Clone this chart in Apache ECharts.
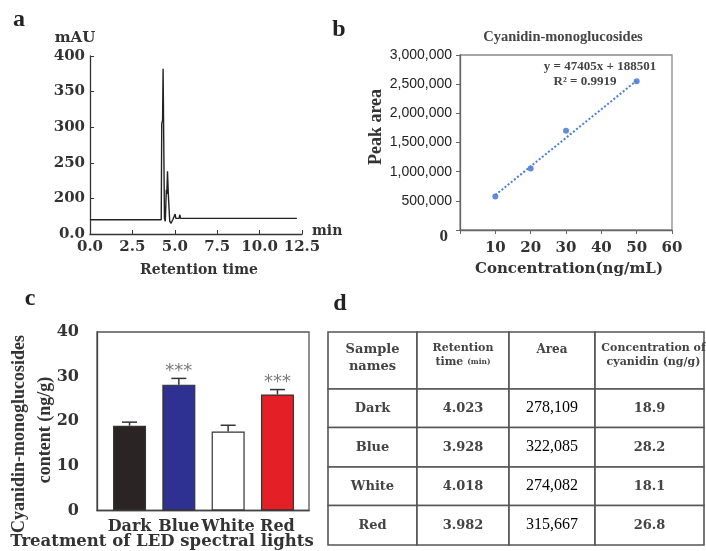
<!DOCTYPE html>
<html>
<head>
<meta charset="utf-8">
<script src="https://cdn.jsdelivr.net/npm/echarts@6/dist/echarts.min.js"></script>
<style>html,body{margin:0;padding:0;background:#fff;}#c{width:706px;height:551px;}</style>
</head>
<body>
<div id="c"></div>
<script>
// ---- Panel a: chromatogram (retention time, min / absorbance, mAU) ----
const chromTime = [0, 4.20, 4.22, 4.23, 4.28, 4.31, 4.39, 4.44, 4.50, 4.53, 4.57, 4.62, 4.70, 4.78, 4.88, 4.98, 5.02, 5.06, 5.25, 5.30, 5.34, 12.2];
const chromMAU  = [170, 170, 171, 305, 310, 382, 172, 168, 212, 206, 238, 205, 168, 165, 170, 172, 178, 172, 172, 177, 172, 172];
const chromYTicks = [150, 200, 250, 300, 350, 400];

// ---- Panel b: calibration curve ----
const calibConc = [10, 20, 30, 50];
const calibArea = [575000, 1055000, 1700000, 2550000];
const trendConc = [10, 50];
const trendArea = [600000, 2560000];
const calibEquation = 'y = 47405x + 188501';
const calibR2 = 'R² = 0.9919';

// ---- Panel c: bar chart ----
const ledTreatments = ['Dark', 'Blue', 'White', 'Red'];
const contentMeans = [19.0, 28.2, 17.7, 26.0];
const contentErrors = [0.8, 1.4, 1.4, 1.1];
const significance = ['', '***', '', '***'];

// ---- Panel d: table ----
const tableHeaders = [['Sample', 'names'], ['Retention', 'time (min)'], ['Area'], ['Concentration of', 'cyanidin (ng/g)']];
const tblSamples = ['Dark', 'Blue', 'White', 'Red'];
const tblRetention = ['4.023', '3.928', '4.018', '3.982'];
const tblArea = ['278,109', '322,085', '274,082', '315,667'];
const tblConc = ['18.9', '28.2', '18.1', '26.8'];

// ---- styles ----
const DS = 'DejaVu Serif';
const LS = 'Liberation Serif';
const BAR_COLORS = ['#2b2424', '#2e3192', '#ffffff', '#e41f26'];
const COL_W = [89, 92, 86, 109];
const ROW_H = [57, 38.5, 39.5, 38.5, 39.5];
const colEdges = [0]; COL_W.forEach(w => colEdges.push(colEdges[colEdges.length - 1] + w));
const rowEdges = [0]; ROW_H.forEach(h => rowEdges.push(rowEdges[rowEdges.length - 1] + h));

const chart = echarts.init(document.getElementById('c'), null, {renderer: 'canvas'});

function txt(text, x, y, font, opts) {
  opts = opts || {};
  return {type: 'text', x: x, y: y, rotation: opts.rot || 0, z: 100,
    style: {text: text, font: font, fill: opts.fill || '#333', textAlign: opts.align || 'center', textVerticalAlign: 'middle'}};
}

const tableColumns = [tblSamples, tblRetention, tblArea, tblConc];
const tableCells = [];
for (let r = 0; r < 5; r++) for (let c = 0; c < 4; c++) tableCells.push([c, r]);

const option = {
  animation: false,
  backgroundColor: '#fff',
  grid: [
    {left: 90, top: 56, width: 212, height: 178, outerBoundsMode: 'none'},
    {left: 460, top: 55, width: 212, height: 175, show: true, borderColor: '#8a8a8a', borderWidth: 1.3, outerBoundsMode: 'none'},
    {left: 97, top: 332, width: 212, height: 178.5, show: true, borderColor: '#555', borderWidth: 1.3, outerBoundsMode: 'none'},
    {left: 328, top: 332, width: 376, height: 213, outerBoundsMode: 'none'}
  ],
  xAxis: [
    {gridIndex: 0, type: 'value', min: 0, max: 12.5, interval: 2.5,
      axisLine: {show: true, lineStyle: {color: '#333', width: 1.3}},
      axisTick: {show: true, inside: true, length: 4, lineStyle: {color: '#333'}},
      axisLabel: {formatter: v => v.toFixed(1), fontFamily: DS, fontWeight: 'bold', fontSize: 15, color: '#333', margin: 6, showMinLabel: true, showMaxLabel: true},
      splitLine: {show: false}},
    {gridIndex: 1, type: 'value', min: 0, max: 60, interval: 10,
      axisLine: {show: true, lineStyle: {color: '#666', width: 1.3}},
      axisTick: {show: true, length: 4, lineStyle: {color: '#666'}},
      axisLabel: {formatter: v => v === 0 ? '' : String(v), fontFamily: DS, fontWeight: 'bold', fontSize: 15, color: '#333', margin: 11, showMaxLabel: true},
      splitLine: {show: false}},
    {gridIndex: 2, type: 'value', min: 0.34, max: 4.64,
      axisLine: {show: true, lineStyle: {color: '#444', width: 1.3}},
      axisTick: {show: false},
      axisLabel: {customValues: [1, 2, 3, 4], formatter: v => ledTreatments[Math.round(v) - 1], fontFamily: DS, fontWeight: 'bold', fontSize: 16, color: '#333', margin: 8},
      splitLine: {show: false}},
    {gridIndex: 3, type: 'value', min: 0, max: colEdges[4], show: false}
  ],
  yAxis: [
    {gridIndex: 0, type: 'value', min: 150, max: 400, interval: 50,
      axisLine: {show: true, lineStyle: {color: '#333', width: 1.3}},
      axisTick: {show: true, inside: true, length: 4, lineStyle: {color: '#333'}},
      axisLabel: {formatter: v => v === 150 ? '0.0' : String(v), fontFamily: DS, fontWeight: 'bold', fontSize: 15, color: '#333', margin: 5, showMinLabel: true, showMaxLabel: true},
      splitLine: {show: false}},
    {gridIndex: 1, type: 'value', min: 0, max: 3000000, interval: 500000,
      axisLine: {show: true, lineStyle: {color: '#666', width: 1.3}},
      axisTick: {show: true, length: 4, lineStyle: {color: '#666'}},
      axisLabel: {formatter: v => v === 0 ? '{z|0}' : v.toLocaleString('en-US'), fontFamily: 'Liberation Sans', fontSize: 14, color: '#222', margin: 8, showMinLabel: true, showMaxLabel: true,
        rich: {z: {fontFamily: LS, fontWeight: 'bold', fontSize: 17, color: '#333', padding: [14, 4, 0, 0]}}},
      splitLine: {show: false}},
    {gridIndex: 2, type: 'value', min: 0, max: 40, interval: 10,
      axisLine: {show: true, lineStyle: {color: '#444', width: 1.3}},
      axisTick: {show: false},
      axisLabel: {fontFamily: DS, fontWeight: 'bold', fontSize: 16, color: '#333', margin: 18, showMinLabel: true, showMaxLabel: true},
      splitLine: {show: false}},
    {gridIndex: 3, type: 'value', min: 0, max: rowEdges[5], inverse: true, show: false}
  ],
  series: [
    {type: 'line', xAxisIndex: 0, yAxisIndex: 0, showSymbol: false, symbol: 'none',
      data: chromTime.map((t, i) => [t, chromMAU[i]]),
      lineStyle: {color: '#222', width: 1.4}},
    {type: 'line', xAxisIndex: 1, yAxisIndex: 1, symbol: 'none',
      data: trendConc.map((c, i) => [c, trendArea[i]]),
      lineStyle: {color: '#4a7fd8', width: 2, type: 'dotted'}},
    {type: 'scatter', xAxisIndex: 1, yAxisIndex: 1, symbol: 'circle', symbolSize: 6,
      data: calibConc.map((c, i) => [c, calibArea[i]]),
      itemStyle: {color: '#3a6fd0'}},
    {type: 'bar', xAxisIndex: 2, yAxisIndex: 2, barWidth: 33,
      data: contentMeans.map((v, i) => ({value: [i + 1, v], itemStyle: {color: BAR_COLORS[i], borderColor: '#333', borderWidth: 1.2}}))},
    {type: 'custom', xAxisIndex: 2, yAxisIndex: 2, z: 5,
      data: contentMeans.map((v, i) => [i + 1, v, contentErrors[i]]),
      encode: {x: 0, y: 1},
      renderItem: function (params, api) {
        const x = api.value(0), v = api.value(1), e = api.value(2);
        const p0 = api.coord([x, v]);
        const p1 = api.coord([x, v + e]);
        const st = {stroke: '#333', lineWidth: 1.5};
        const children = [
          {type: 'line', shape: {x1: p0[0], y1: p0[1], x2: p1[0], y2: p1[1]}, style: st},
          {type: 'line', shape: {x1: p1[0] - 7.5, y1: p1[1], x2: p1[0] + 7.5, y2: p1[1]}, style: st}
        ];
        const s = significance[params.dataIndex];
        if (s) children.push({type: 'text', x: p1[0], y: p1[1] - 7,
          style: {text: s, font: '18px DejaVu Sans', fill: '#7a7a7a', textAlign: 'center', textVerticalAlign: 'middle'}});
        return {type: 'group', children: children};
      }},
    {type: 'custom', xAxisIndex: 3, yAxisIndex: 3,
      data: tableCells,
      encode: {x: 0, y: 1},
      renderItem: function (params, api) {
        const c = api.value(0), r = api.value(1);
        const p0 = api.coord([colEdges[c], rowEdges[r]]);
        const p1 = api.coord([colEdges[c + 1], rowEdges[r + 1]]);
        const x = p0[0], y = p0[1], w = p1[0] - p0[0], h = p1[1] - p0[1];
        const children = [{type: 'rect', shape: {x: x, y: y, width: w, height: h},
          style: {fill: '#fff', stroke: '#555', lineWidth: 1.6}}];
        if (r === 0) {
          const lines = tableHeaders[c];
          let tag = c === 0 ? 'a' : (c === 2 ? 'd' : 'b');
          const text = lines.map(l => {
            if (l.indexOf('(min)') >= 0) return '{b|' + l.replace(' (min)', ' ') + '}{s|(min)}';
            return '{' + tag + '|' + l + '}';
          }).join('\n');
          children.push({type: 'text', x: x + w / 2 + (c === 3 ? 4 : 0), y: y + 9.5,
            style: {text: text, textAlign: 'center', textVerticalAlign: 'top', fill: '#444',
              rich: {
                a: {fontFamily: DS, fontWeight: 'bold', fontSize: 13, lineHeight: 17, fill: '#444', align: 'center'},
                b: {fontFamily: DS, fontWeight: 'bold', fontSize: 11, lineHeight: 14, fill: '#444', align: 'center'},
                s: {fontFamily: DS, fontWeight: 'bold', fontSize: 7.5, lineHeight: 14, fill: '#444'},
                d: {fontFamily: DS, fontWeight: 'bold', fontSize: 12, lineHeight: 17, fill: '#444', align: 'center'}
              }}});
        } else {
          const val = tableColumns[c][r - 1];
          const font = c === 2 ? '16px Liberation Serif' : 'bold 13px DejaVu Serif';
          children.push({type: 'text', x: x + w / 2, y: y + h / 2,
            style: {text: val, font: font, fill: c === 2 ? '#000' : '#444', textAlign: 'center', textVerticalAlign: 'middle'}});
        }
        return {type: 'group', children: children};
      }}
  ],
  graphic: [
    txt('a', 19, 20, 'bold 24px Liberation Serif', {fill: '#222'}),
    txt('b', 339, 30, 'bold 24px Liberation Serif', {fill: '#222'}),
    txt('c', 30, 299, 'bold 24px Liberation Serif', {fill: '#222'}),
    txt('d', 340, 304, 'bold 24px Liberation Serif', {fill: '#222'}),
    txt('mAU', 75, 38, 'bold 15px DejaVu Serif'),
    txt('min', 312, 231, 'bold 14px DejaVu Serif', {align: 'left'}),
    txt('Retention time', 199, 270, 'bold 14px DejaVu Serif'),
    txt('Cyanidin-monoglucosides', 563, 37, 'bold 14.5px Liberation Serif', {fill: '#444'}),
    txt(calibEquation, 600, 67, 'bold 13px Liberation Serif', {fill: '#444'}),
    txt(calibR2, 585, 82, 'bold 13px Liberation Serif', {fill: '#444'}),
    txt('Peak area', 376, 127, 'bold 18px Liberation Serif', {rot: Math.PI / 2}),
    txt('Concentration(ng/mL)', 569, 269, 'bold 15px DejaVu Serif'),
    txt('Cyanidin-monoglucosides', 19, 434, 'bold 18px Liberation Serif', {rot: Math.PI / 2}),
    txt('content (ng/g)', 45, 430, 'bold 18px Liberation Serif', {rot: Math.PI / 2}),
    txt('Treatment of LED spectral lights', 162, 542, 'bold 16.5px DejaVu Serif')
  ]
};
chart.setOption(option);
</script>
</body>
</html>
